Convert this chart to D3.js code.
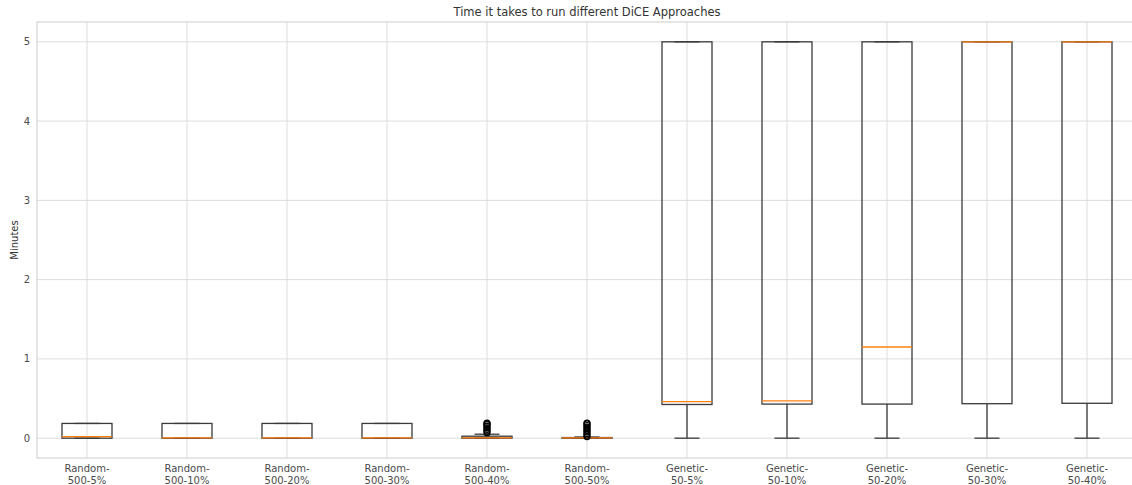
<!DOCTYPE html>
<html>
<head>
<meta charset="utf-8">
<script src="https://d3js.org/d3.v7.min.js"></script>
<style>
  body { margin: 0; background: #fff; }
  svg text { font-family: "DejaVu Sans", sans-serif; }
</style>
</head>
<body>
<svg id="chart" width="1132" height="485"></svg>
<script>
// box summaries (minutes)
const categories = ["Random-\n500-5%", "Random-\n500-10%", "Random-\n500-20%", "Random-\n500-30%", "Random-\n500-40%",
                    "Random-\n500-50%", "Genetic-\n50-5%", "Genetic-\n50-10%", "Genetic-\n50-20%", "Genetic-\n50-30%", "Genetic-\n50-40%"];
const q1      = [0,     0,     0,     0,     0,     0,     0.425, 0.43,  0.43,  0.435, 0.44];
const medians = [0.02,  0.005, 0.005, 0.005, 0.005, 0.005, 0.46,  0.47,  1.15,  5,     5];
const q3      = [0.186, 0.186, 0.186, 0.186, 0.025, 0.008, 5,     5,     5,     5,     5];
const whiskLo = [0,     0,     0,     0,     0,     0,     0,     0,     0,     0,     0];
const whiskHi = [0.186, 0.186, 0.186, 0.186, 0.05,  0.015, 5,     5,     5,     5,     5];
const fliers  = [[], [], [], [],
                 [0.07, 0.09, 0.11, 0.13, 0.15, 0.17, 0.18, 0.19],
                 [0.02, 0.04, 0.06, 0.08, 0.10, 0.12, 0.14, 0.16, 0.18, 0.19],
                 [], [], [], [], []];
const yTicks = [0, 1, 2, 3, 4, 5];

const svg = d3.select("#chart");
const plotL = 37, plotR = 1137, plotT = 22, plotB = 458;

const x = d3.scaleLinear().domain([0.5, 11.5]).range([plotL, plotR]);
const y = d3.scaleLinear().domain([-0.25, 5.25]).range([plotB, plotT]);
const boxW = x(1.25) - x(1);
const capW = x(1.125) - x(1);

// grid
const g = svg.append("g");
g.selectAll("line.hgrid").data(yTicks).join("line")
  .attr("x1", plotL).attr("x2", plotR)
  .attr("y1", d => y(d)).attr("y2", d => y(d))
  .attr("stroke", "#dcdcdc").attr("stroke-width", 1);
g.selectAll("line.vgrid").data(categories).join("line")
  .attr("x1", (d, i) => x(i + 1)).attr("x2", (d, i) => x(i + 1))
  .attr("y1", plotT).attr("y2", plotB)
  .attr("stroke", "#dcdcdc").attr("stroke-width", 1);

// spines
svg.append("rect").attr("x", plotL).attr("y", plotT)
  .attr("width", plotR - plotL).attr("height", plotB - plotT)
  .attr("fill", "none").attr("stroke", "#d4d4d4").attr("stroke-width", 1.2);

// y tick labels
svg.selectAll("text.ytick").data(yTicks).join("text")
  .attr("x", 30).attr("y", d => y(d)).attr("dy", "0.35em")
  .attr("text-anchor", "end").attr("font-size", 10).attr("fill", "#4a4a4a")
  .text(d => d);

// x tick labels (two lines, the second sits on the bottom edge like the original)
const xt = svg.selectAll("text.xtick").data(categories).join("text")
  .attr("text-anchor", "middle").attr("font-size", 10).attr("fill", "#4a4a4a");
xt.each(function(d, i) {
  const parts = d.split("\n");
  d3.select(this).selectAll("tspan").data(parts).join("tspan")
    .attr("x", x(i + 1)).attr("y", (p, j) => 472 + j * 12)
    .text(p => p);
});

// title + y label
svg.append("text").attr("x", (plotL + plotR) / 2).attr("y", 16)
  .attr("text-anchor", "middle").attr("font-size", 11.5).attr("fill", "#333")
  .text("Time it takes to run different DiCE Approaches");
svg.append("text").attr("transform", "translate(18," + y(2.5) + ") rotate(-90)")
  .attr("text-anchor", "middle").attr("font-size", 10).attr("fill", "#333")
  .text("Minutes");

// boxes
const boxes = svg.selectAll("g.box").data(categories).join("g").attr("class", "box");
const line = "#3a3a3a";
boxes.each(function(d, i) {
  const b = d3.select(this);
  const cx = x(i + 1);
  // whiskers
  b.append("line").attr("x1", cx).attr("x2", cx).attr("y1", y(q1[i])).attr("y2", y(whiskLo[i]))
    .attr("stroke", line).attr("stroke-width", 1.3);
  b.append("line").attr("x1", cx).attr("x2", cx).attr("y1", y(q3[i])).attr("y2", y(whiskHi[i]))
    .attr("stroke", line).attr("stroke-width", 1.3);
  // caps
  [whiskLo[i], whiskHi[i]].forEach(v => {
    b.append("line").attr("x1", cx - capW).attr("x2", cx + capW).attr("y1", y(v)).attr("y2", y(v))
      .attr("stroke", line).attr("stroke-width", 1.3);
  });
  // box
  b.append("rect").attr("x", cx - boxW).attr("y", y(q3[i]))
    .attr("width", boxW * 2).attr("height", Math.max(0.5, y(q1[i]) - y(q3[i])))
    .attr("fill", "none").attr("stroke", line).attr("stroke-width", 1.3);
  // median
  b.append("line").attr("x1", cx - boxW).attr("x2", cx + boxW)
    .attr("y1", y(medians[i])).attr("y2", y(medians[i]))
    .attr("stroke", "#ff7f0e").attr("stroke-width", 1.3);
  // fliers
  b.selectAll("circle").data(fliers[i]).join("circle")
    .attr("cx", cx).attr("cy", v => y(v)).attr("r", 3)
    .attr("fill", "none").attr("stroke", "#000").attr("stroke-width", 1.2);
});
</script>
</body>
</html>
